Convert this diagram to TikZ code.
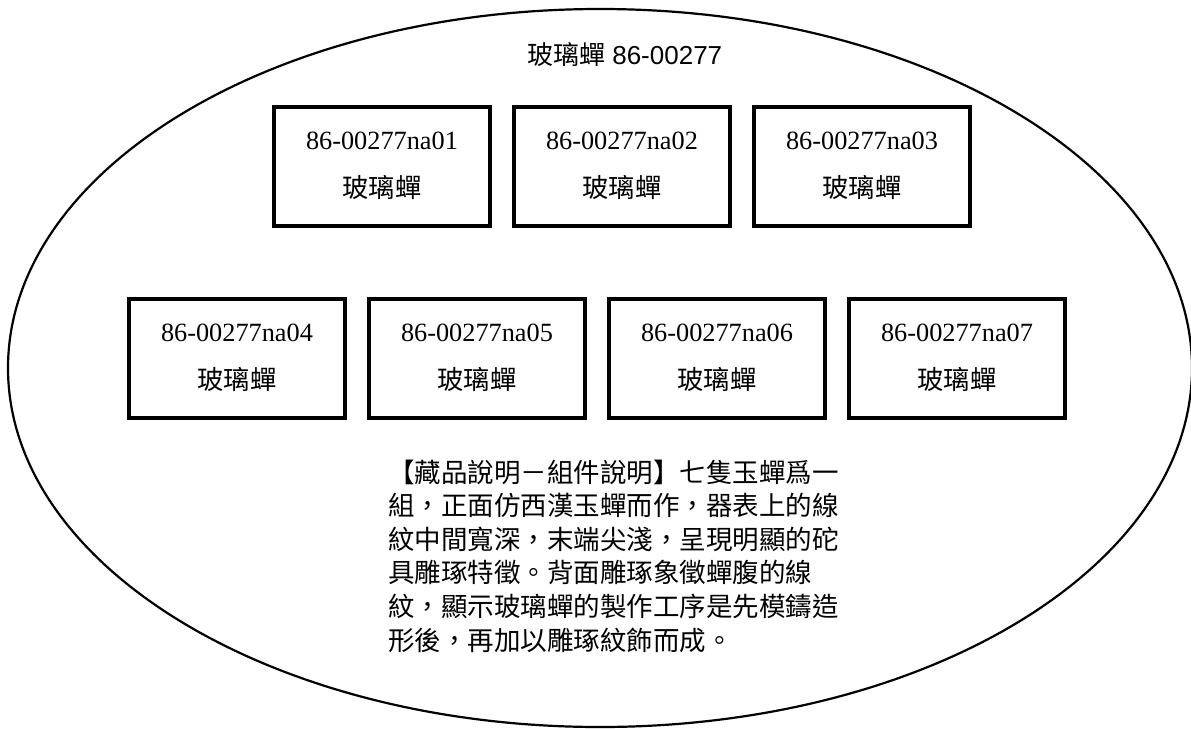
\documentclass[tikz,border=0pt]{standalone}
\usepackage{fontspec}
\setmainfont{Liberation Serif}
\newfontfamily\cjk{Noto Sans CJK TC}
\newfontfamily\arial{Liberation Sans}
\begin{document}
\begin{tikzpicture}[x=1pt,y=-1pt,
  itembox/.style={draw, line width=4pt, minimum width=216pt, minimum height=119pt,
    inner sep=0pt, align=center, font=\fontsize{26.3}{48}\selectfont},
  desc/.style={anchor=base west, inner sep=0pt, font=\cjk\fontsize{26.5}{33.6}\selectfont}]
\useasboundingbox (0,0) rectangle (1191,728);
\draw[line width=2.2pt] (600,368) ellipse [x radius=592, y radius=359];
\node[inner sep=0pt, font=\fontsize{26}{30}\selectfont] (title) at (625,55) {{\cjk 玻璃蟬} \arial 86-00277};
\node[itembox] (na01) at (382,166) {86-00277na01\\{\cjk 玻璃蟬}};
\node[itembox] (na02) at (622,166) {86-00277na02\\{\cjk 玻璃蟬}};
\node[itembox] (na03) at (862,166) {86-00277na03\\{\cjk 玻璃蟬}};
\node[itembox] (na04) at (237,358) {86-00277na04\\{\cjk 玻璃蟬}};
\node[itembox] (na05) at (477,358) {86-00277na05\\{\cjk 玻璃蟬}};
\node[itembox] (na06) at (717,358) {86-00277na06\\{\cjk 玻璃蟬}};
\node[itembox] (na07) at (957,358) {86-00277na07\\{\cjk 玻璃蟬}};
\node[desc] (d1) at (388,482) {【藏品說明－組件說明】七隻玉蟬爲一};
\node[desc] (d2) at (388,515.6) {組，正面仿西漢玉蟬而作，器表上的線};
\node[desc] (d3) at (388,549.2) {紋中間寬深，末端尖淺，呈現明顯的砣};
\node[desc] (d4) at (388,582.8) {具雕琢特徵。背面雕琢象徵蟬腹的線};
\node[desc] (d5) at (388,616.4) {紋，顯示玻璃蟬的製作工序是先模鑄造};
\node[desc] (d6) at (388,650) {形後，再加以雕琢紋飾而成。};
\end{tikzpicture}
\end{document}
